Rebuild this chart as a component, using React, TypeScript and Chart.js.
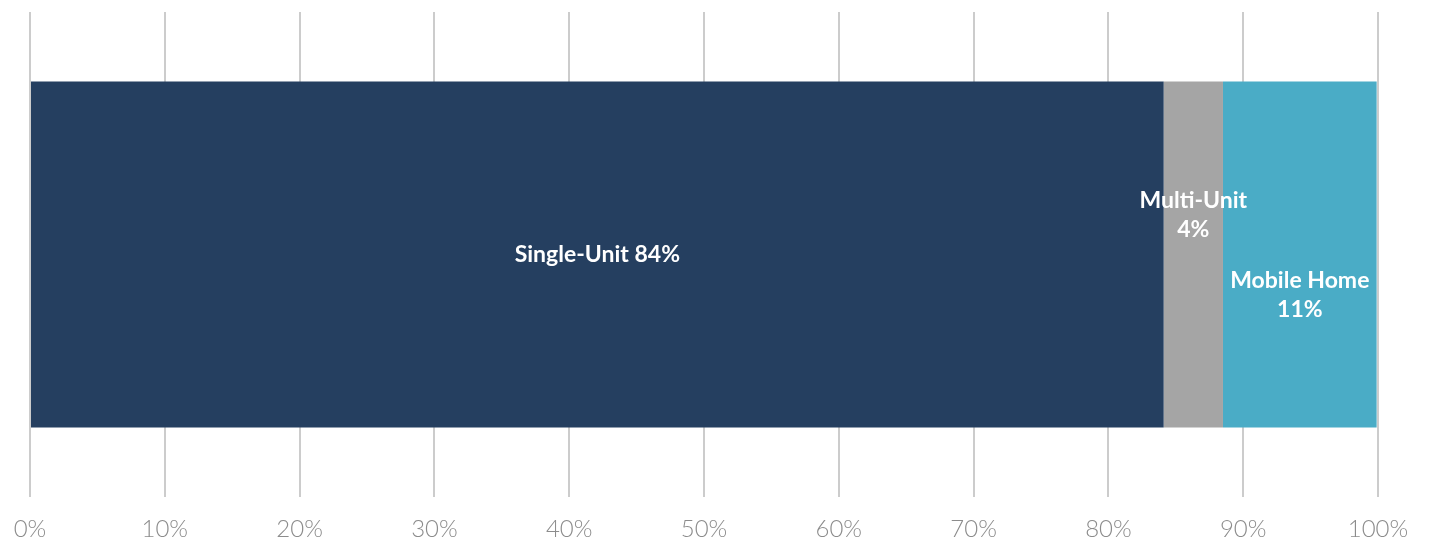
import React, { useEffect, useRef } from "react";
import { Chart, registerables } from "chart.js";

Chart.register(...registerables);

// Housing stock by structure type, share of units (%)
const categories = ["Housing units"];
const seriesNames = ["Single-Unit", "Multi-Unit", "Mobile Home"];
const singleUnit = [84.1];
const multiUnit = [4.4];
const mobileHome = [11.4];
const xTicks = [0, 10, 20, 30, 40, 50, 60, 70, 80, 90, 100];

const seriesColors = ["#253f60", "#a5a5a5", "#4aacc6"];
// label layout per segment: one or two lines, and vertical shift from bar centre
const labelStyle = [
  { twoLines: false, dy: 0 },
  { twoLines: true, dy: -39 },
  { twoLines: true, dy: 41 },
];

const segmentLabels = {
  id: "segmentLabels",
  afterDatasetsDraw(chart: any) {
    const ctx = chart.ctx;
    ctx.save();
    ctx.fillStyle = "#ffffff";
    ctx.font = "bold 23px Lato";
    ctx.textAlign = "center";
    ctx.textBaseline = "middle";
    chart.data.datasets.forEach((ds: any, i: number) => {
      const meta = chart.getDatasetMeta(i);
      meta.data.forEach((el: any, j: number) => {
        const v = ds.data[j];
        const cx = (el.x + el.base) / 2;
        const cy = el.y + labelStyle[i].dy;
        const pct = Math.round(v) + "%";
        if (labelStyle[i].twoLines) {
          ctx.fillText(ds.label, cx, cy - 14.5);
          ctx.fillText(pct, cx, cy + 14.5);
        } else {
          ctx.fillText(ds.label + " " + pct, cx, cy);
        }
      });
    });
    ctx.restore();
  },
};

export default function App() {
  const canvasRef = useRef<HTMLCanvasElement>(null);

  useEffect(() => {
    const chart = new Chart(canvasRef.current!, {
      type: "bar",
      data: {
        labels: categories,
        datasets: [singleUnit, multiUnit, mobileHome].map((d, i) => ({
          label: seriesNames[i],
          data: d,
          backgroundColor: seriesColors[i],
          borderWidth: 0,
          barPercentage: 0.713,
          categoryPercentage: 1,
        })),
      },
      options: {
        indexAxis: "y",
        responsive: false,
        animation: false,
        layout: { padding: { top: 12, left: 30, right: 51, bottom: 4 } },
        plugins: {
          legend: { display: false },
          tooltip: { enabled: false },
        },
        scales: {
          x: {
            stacked: true,
            min: 0,
            max: 100,
            afterBuildTicks: (axis: any) => {
              axis.ticks = xTicks.map((v) => ({ value: v }));
            },
            afterFit: (axis: any) => {
              axis.height = 43;
              axis.paddingLeft = 0;
              axis.paddingRight = 0;
            },
            ticks: {
              callback: (v: any) => v + "%",
              color: "#8c8c8c",
              font: { family: "Lato", size: 24, weight: "300" },
              padding: 18,
              maxRotation: 0,
            },
            grid: { color: "#cccccc", lineWidth: 2, drawTicks: false },
            border: { display: false },
          },
          y: {
            stacked: true,
            display: false,
          },
        },
      },
      plugins: [segmentLabels],
    });
    return () => chart.destroy();
  }, []);

  return (
    <div style={{ position: "fixed", top: 0, left: 0, width: 1429, height: 544, background: "#fff" }}>
      <canvas ref={canvasRef} width={1429} height={544} />
    </div>
  );
}
